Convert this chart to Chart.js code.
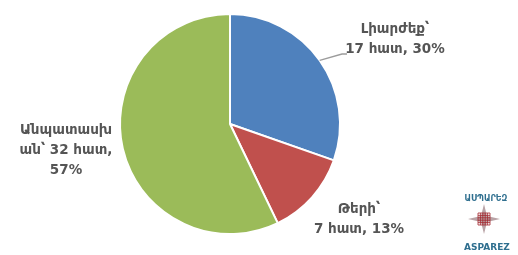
<!DOCTYPE html>
<html>
<head>
<meta charset="utf-8">
<script src="https://cdn.jsdelivr.net/npm/chart.js@4.4.1/dist/chart.umd.min.js"></script>
<style>
  html, body { margin: 0; padding: 0; background: #fff; }
  #wrap { width: 518px; height: 255px; position: relative; }
</style>
</head>
<body>
<div id="wrap"><canvas id="chartPie"></canvas></div>
<script>
/* ============================================================
   DATA
============================================================ */
const categories = ["Լիարժեք՝", "Թերի՝", "Անպատասխան՝"];
const counts = [17, 7, 32];
const percents = [30, 13, 57];
const sliceColors = ["#4F81BD", "#C0504D", "#9BBB59"];
const unitWord = "հատ";

// where the label text sits (first line centre) and how the long one wraps
const labelAnchors = [{ x: 395, y: 29 }, { x: 359, y: 209 }, { x: 66, y: 130 }];
const wrapAt = [null, null, 8];

function labelLines(i) {
    const tail = `${counts[i]} ${unitWord}, ${percents[i]}%`;
    const cat = categories[i];
    if (wrapAt[i] == null) return [cat, tail];
    return [cat.slice(0, wrapAt[i]), cat.slice(wrapAt[i]) + " " + `${counts[i]} ${unitWord},`, `${percents[i]}%`];
}

/* ============================================================
   PLUGIN: labels, leader line, logo
============================================================ */
const pieLabels = {
    id: "pieLabels",
    afterDraw(chart) {
        const ctx = chart.ctx;
        const arcs = chart.getDatasetMeta(0).data;
        ctx.save();
        ctx.font = "bold 13.5px 'DejaVu Sans'";
        ctx.fillStyle = "#555555";
        ctx.textAlign = "center";
        ctx.textBaseline = "middle";

        arcs.forEach((arc, i) => {
            const lines = labelLines(i);
            const a = labelAnchors[i];
            lines.forEach((t, k) => ctx.fillText(t, a.x, a.y + k * 20));
        });

        // leader line for the first slice
        const arc = arcs[0];
        const mid = (arc.startAngle + arc.endAngle) / 2;
        const sx = arc.x + Math.cos(mid) * arc.outerRadius;
        const sy = arc.y + Math.sin(mid) * arc.outerRadius;
        ctx.strokeStyle = "#9C9C9C";
        ctx.lineWidth = 1.3;
        ctx.beginPath();
        ctx.moveTo(sx, sy);
        ctx.lineTo(342, 54);
        ctx.lineTo(347, 54);
        ctx.stroke();

        // logo
        ctx.fillStyle = "#2F6F8F";
        ctx.font = "bold 8px 'DejaVu Sans'";
        ctx.fillText("ԱՍՊԱՐԵԶ", 486, 199);
        ctx.font = "bold 9px 'DejaVu Sans'";
        ctx.fillText("ASPAREZ", 487, 248);

        const cx = 484, cy = 219;
        ctx.fillStyle = "#B9A3A6";
        ctx.beginPath();
        ctx.moveTo(cx, cy - 15);
        ctx.lineTo(cx + 3, cy - 3);
        ctx.lineTo(cx + 16, cy);
        ctx.lineTo(cx + 3, cy + 3);
        ctx.lineTo(cx, cy + 15);
        ctx.lineTo(cx - 3, cy + 3);
        ctx.lineTo(cx - 16, cy);
        ctx.lineTo(cx - 3, cy - 3);
        ctx.closePath();
        ctx.fill();
        ctx.strokeStyle = "#A3262D";
        ctx.lineWidth = 0.8;
        ctx.beginPath();
        for (let d = -6; d <= 6; d += 2.4) {
            ctx.moveTo(cx + d, cy - 6);
            ctx.lineTo(cx + d, cy + 6);
            ctx.moveTo(cx - 6, cy + d);
            ctx.lineTo(cx + 6, cy + d);
        }
        ctx.stroke();
        ctx.restore();
    }
};

/* ============================================================
   CHART
============================================================ */
new Chart(document.getElementById("chartPie"), {
    type: "pie",
    data: {
        labels: categories,
        datasets: [{
            data: counts,
            backgroundColor: sliceColors,
            borderColor: "#fff",
            borderWidth: 2
        }]
    },
    options: {
        responsive: true,
        maintainAspectRatio: false,
        animation: false,
        layout: { padding: { left: 119, right: 177, top: 13, bottom: 20 } },
        plugins: {
            legend: { display: false },
            tooltip: { enabled: false }
        }
    },
    plugins: [pieLabels]
});
</script>
</body>
</html>
